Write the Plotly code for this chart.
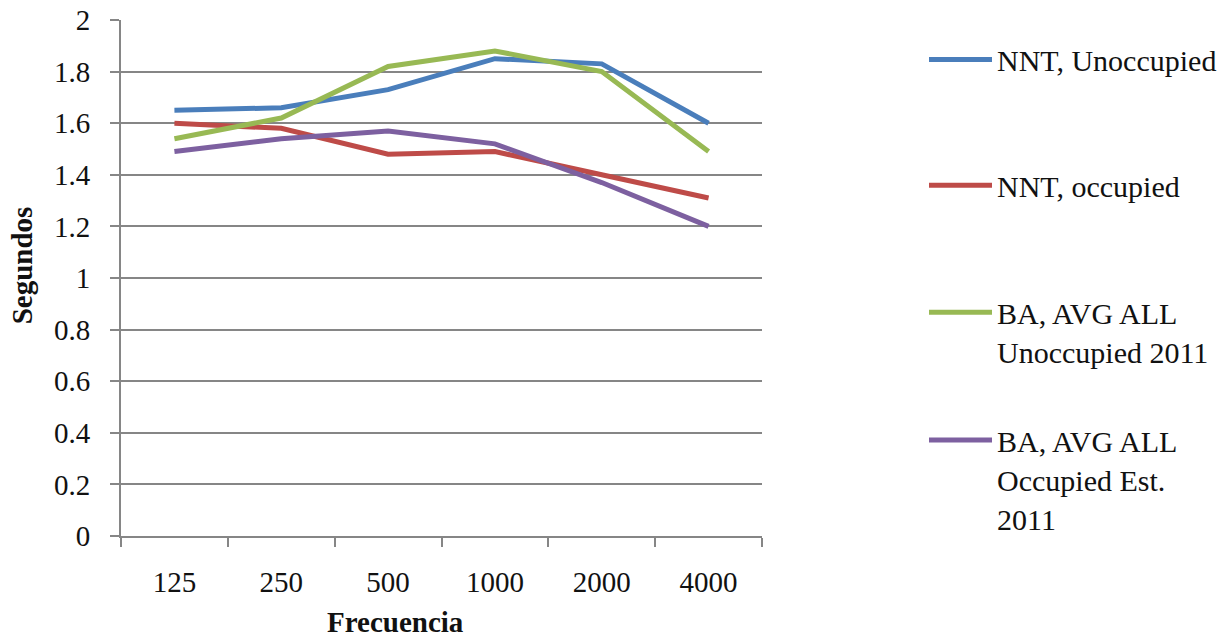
import plotly.graph_objects as go

categories = ["125", "250", "500", "1000", "2000", "4000"]
nnt_unoccupied = [1.65, 1.66, 1.73, 1.85, 1.83, 1.60]
nnt_occupied = [1.60, 1.58, 1.48, 1.49, 1.40, 1.31]
ba_unoccupied = [1.54, 1.62, 1.82, 1.88, 1.80, 1.49]
ba_occupied = [1.49, 1.54, 1.57, 1.52, 1.37, 1.20]

series = [
    ("NNT, Unoccupied", nnt_unoccupied, "#4A7EBB", "legend"),
    ("NNT, occupied", nnt_occupied, "#BE4B48", "legend2"),
    ("BA, AVG ALL<br>Unoccupied 2011", ba_unoccupied, "#98B954", "legend3"),
    ("BA, AVG ALL<br>Occupied Est.<br>2011", ba_occupied, "#7D60A0", "legend4"),
]

FONT = "Liberation Serif"
TXT = "#111111"
GRID = "#868686"

fig = go.Figure()
for name, vals, color, lg in series:
    fig.add_trace(go.Scatter(
        x=categories, y=vals, name=name, mode="lines",
        line=dict(color=color, width=5),
        legend=lg,
    ))

W, H = 1228, 639
L, R, T, B = 121, 762, 19.5, 536

def py(Y):
    return (B - Y) / (B - T)

def px(X):
    return (X - L) / (R - L)

legend_common = dict(
    xanchor="left", yanchor="top", valign="top",
    font=dict(family=FONT, size=30, color=TXT),
    bgcolor="rgba(0,0,0,0)", itemwidth=63,
)
leg_tops = [33, 159, 286, 414]
LEGX = 924
fig.update_layout(
    legend=dict(x=px(LEGX), y=py(leg_tops[0]), **legend_common),
    legend2=dict(x=px(LEGX), y=py(leg_tops[1]), **legend_common),
    legend3=dict(x=px(LEGX), y=py(leg_tops[2]), **legend_common),
    legend4=dict(x=px(LEGX), y=py(leg_tops[3]), **legend_common),
)

fig.update_layout(
    width=W, height=H,
    margin=dict(l=L, r=W - R, t=T, b=H - B, autoexpand=False),
    paper_bgcolor="white", plot_bgcolor="white",
    font=dict(family=FONT, size=29, color=TXT),
    showlegend=True,
)
fig.update_xaxes(
    type="category", range=[-0.5, 5.5],
    tickson="boundaries", ticks="outside", ticklen=9, tickwidth=1.5, tickcolor=GRID,
    showline=True, linecolor=GRID, linewidth=2,
    showgrid=False, zeroline=False,
    ticklabelstandoff=19,
    tickfont=dict(family=FONT, size=29, color=TXT),
)
fig.update_yaxes(
    range=[0, 2], dtick=0.2, tick0=0,
    ticks="outside", ticklen=9, tickwidth=1.5, tickcolor=GRID,
    showline=True, linecolor=GRID, linewidth=2,
    showgrid=True, gridcolor=GRID, gridwidth=1.5, zeroline=False,
    ticklabelstandoff=14,
    tickfont=dict(family=FONT, size=29, color=TXT),
)

fig.add_annotation(
    text="<b>Frecuencia</b>", xref="paper", yref="paper",
    x=px(395), y=py(622), xanchor="center", yanchor="middle",
    showarrow=False, font=dict(family=FONT, size=29, color=TXT),
)
fig.add_annotation(
    text="<b>Segundos</b>", xref="paper", yref="paper",
    x=px(22), y=py(265), xanchor="center", yanchor="middle",
    textangle=-90, showarrow=False, font=dict(family=FONT, size=29, color=TXT),
)

fig.write_html(
    "out.html",
    config={"displayModeBar": False},
    post_script="document.body.style.margin='0';document.body.style.overflow='hidden';",
)
